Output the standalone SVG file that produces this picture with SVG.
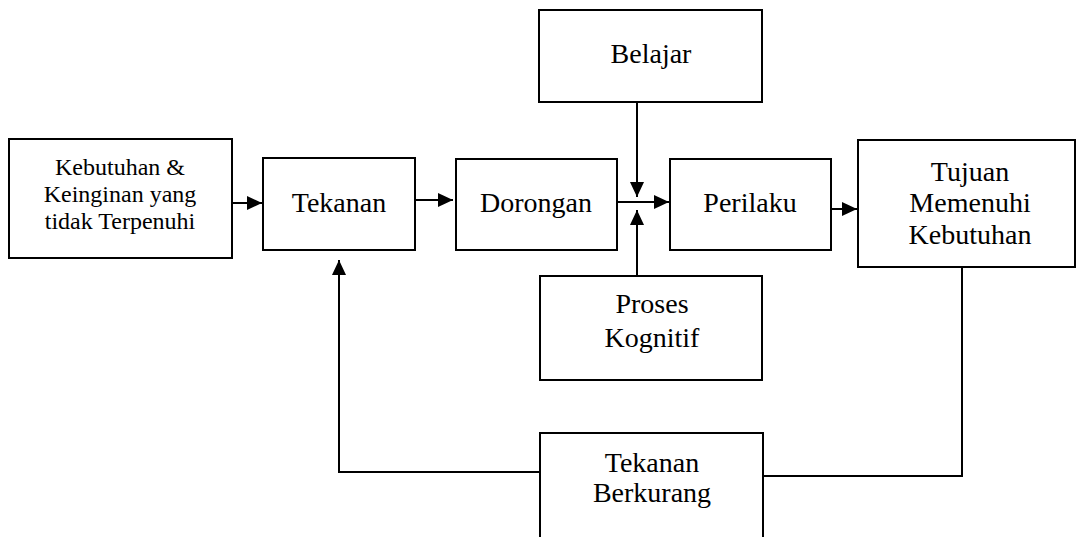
<svg xmlns="http://www.w3.org/2000/svg" width="1076" height="537" viewBox="0 0 1076 537">
<defs>
<style>
.box{fill:#fff;stroke:#000;stroke-width:2}
.ln{fill:none;stroke:#000;stroke-width:2}
text{font-family:"Liberation Serif","Times New Roman",serif;font-size:28px;fill:#000;text-anchor:middle}
.sm{font-size:24px}
</style>
<marker id="ah" markerUnits="userSpaceOnUse" markerWidth="16" markerHeight="16" refX="15" refY="8" orient="auto">
<path d="M0,1 L15,8 L0,15 Z" fill="#000"/>
</marker>
</defs>
<rect width="1076" height="537" fill="#fff"/>
<g id="connectors">
<line class="ln" x1="232" y1="203" x2="262" y2="203" marker-end="url(#ah)"/>
<line class="ln" x1="415" y1="200" x2="453" y2="200" marker-end="url(#ah)"/>
<line class="ln" x1="617" y1="202" x2="669" y2="202" marker-end="url(#ah)"/>
<line class="ln" x1="637" y1="102" x2="637" y2="197" marker-end="url(#ah)"/>
<line class="ln" x1="637" y1="276" x2="637" y2="210" marker-end="url(#ah)"/>
<line class="ln" x1="831" y1="209" x2="857" y2="209" marker-end="url(#ah)"/>
<polyline class="ln" points="962,267 962,476 763,476"/>
<polyline class="ln" points="540,472 339,472 339,260" marker-end="url(#ah)"/>
</g>
<g id="kebutuhan">
<rect class="box" x="9" y="139" width="223" height="119"/>
<text class="sm" x="120" y="175">Kebutuhan &amp;</text>
<text class="sm" x="120" y="202">Keinginan yang</text>
<text class="sm" x="120" y="229">tidak Terpenuhi</text>
</g>
<g id="tekanan">
<rect class="box" x="263" y="158" width="152" height="92"/>
<text x="339" y="212">Tekanan</text>
</g>
<g id="dorongan">
<rect class="box" x="456" y="159" width="161" height="91"/>
<text x="536" y="212">Dorongan</text>
</g>
<g id="belajar">
<rect class="box" x="539" y="10" width="223" height="92"/>
<text x="651" y="63">Belajar</text>
</g>
<g id="perilaku">
<rect class="box" x="670" y="159" width="161" height="91"/>
<text x="750" y="212">Perilaku</text>
</g>
<g id="tujuan">
<rect class="box" x="858" y="140" width="217" height="127"/>
<text x="970" y="181">Tujuan</text>
<text x="970" y="212">Memenuhi</text>
<text x="970" y="244">Kebutuhan</text>
</g>
<g id="proses">
<rect class="box" x="540" y="276" width="222" height="104"/>
<text x="652" y="313">Proses</text>
<text x="652" y="347">Kognitif</text>
</g>
<g id="tekanan-berkurang">
<rect class="box" x="540" y="433" width="223" height="115"/>
<text x="652" y="472">Tekanan</text>
<text x="652" y="502">Berkurang</text>
</g>
</svg>
